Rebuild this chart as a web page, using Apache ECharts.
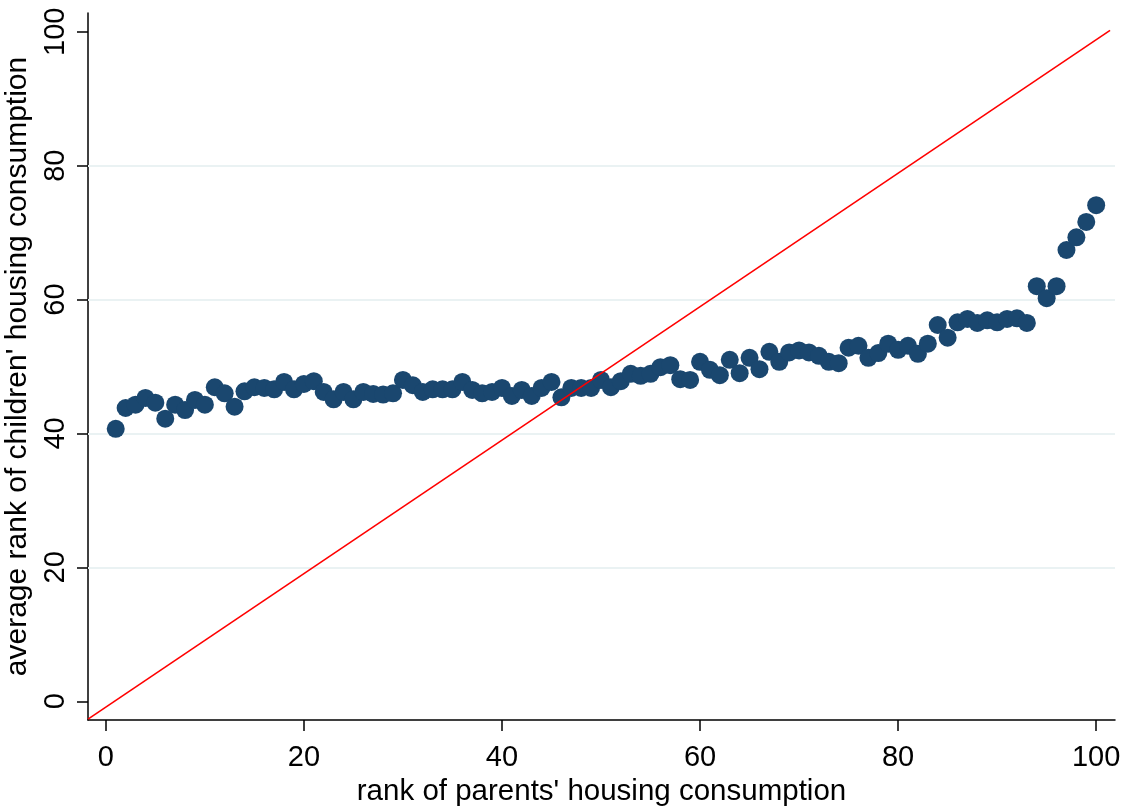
<!DOCTYPE html>
<html>
<head>
<meta charset="utf-8">
<script src="https://cdn.jsdelivr.net/npm/echarts@6/dist/echarts.min.js"></script>
<style>
html,body{margin:0;padding:0;background:#fff;}
#chart{width:1130px;height:806px;}
</style>
</head>
<body>
<div id="chart"></div>
<script>
// parent rank (x)
var parentRank = [];
for (var i = 1; i <= 100; i++) parentRank.push(i);
// average child rank (y)
var childRank = [
40.7,43.8,44.3,45.3,44.6,42.2,44.3,43.5,45.0,44.3,
46.9,46.0,44.0,46.3,46.9,46.8,46.6,47.7,46.6,47.4,
47.8,46.2,45.1,46.2,45.1,46.2,45.9,45.8,46.0,48.0,
47.2,46.2,46.6,46.6,46.6,47.7,46.5,46.0,46.2,46.8,
45.6,46.5,45.6,46.8,47.7,45.4,46.8,46.8,46.8,48.0,
46.9,47.8,48.9,48.6,48.9,49.9,50.2,48.1,48.0,50.7,
49.5,48.7,51.0,49.0,51.3,49.6,52.2,50.7,52.1,52.4,
52.1,51.6,50.7,50.5,52.8,53.1,51.3,52.0,53.4,52.5,
53.1,51.9,53.4,56.2,54.3,56.6,57.1,56.5,56.9,56.6,
57.1,57.2,56.5,62.0,60.2,62.0,67.4,69.3,71.6,74.1
];
// 45-degree reference line endpoints
var refLineX = [-1.8, 101.4];
var refLineY = [-2.66, 100.2];
// tick labels
var xTicks = [0, 20, 40, 60, 80, 100];
var yTicks = [0, 20, 40, 60, 80, 100];
var gridValues = [20, 40, 60, 80];

var xTitle = "rank of parents' housing consumption";
var yTitle = "average rank of children' housing consumption";

var scatterData = parentRank.map(function (x, i) { return [x, childRank[i]]; });
var lineData = refLineX.map(function (x, i) { return [x, refLineY[i]]; });

var font = "'Liberation Sans', Arial, sans-serif";
var chart = echarts.init(document.getElementById('chart'), null, {renderer: 'canvas'});
chart.setOption({
  animation: false,
  backgroundColor: '#ffffff',
  grid: {left: 88, right: 15, top: 13, bottom: 86, containLabel: false, outerBoundsMode: 'none'},
  xAxis: {
    type: 'value', min: -1.8, max: 101.9,
    name: xTitle, nameLocation: 'middle', nameGap: 51,
    nameTextStyle: {fontFamily: font, fontSize: 29.5, color: '#000'},
    axisLine: {show: true, onZero: false, lineStyle: {color: '#000', width: 1.5}},
    axisTick: {show: true, length: 11, customValues: xTicks, lineStyle: {color: '#000', width: 1.5}},
    axisLabel: {customValues: xTicks, fontFamily: font, fontSize: 29, color: '#000', margin: 23},
    splitLine: {show: false}
  },
  yAxis: {
    type: 'value', min: -2.8, max: 102.8,
    name: yTitle, nameLocation: 'middle', nameGap: 42, nameRotate: 90,
    nameTextStyle: {fontFamily: font, fontSize: 30, color: '#000'},
    axisLine: {show: true, onZero: false, lineStyle: {color: '#000', width: 1.5}},
    axisTick: {show: true, length: 11, customValues: yTicks, lineStyle: {color: '#000', width: 1.5}},
    axisLabel: {customValues: yTicks, rotate: 90, fontFamily: font, fontSize: 29, color: '#000', margin: 18},
    splitLine: {show: false}
  },
  series: [
    {
      type: 'scatter',
      data: scatterData,
      symbol: 'circle',
      symbolSize: 18,
      itemStyle: {color: '#1a476f', opacity: 1},
      z: 3,
      markLine: {
        silent: true, symbol: 'none', label: {show: false},
        lineStyle: {color: '#eaf2f3', width: 2, type: 'solid'},
        data: gridValues.map(function (v) { return {yAxis: v}; }),
        z: 1
      }
    },
    {
      type: 'line',
      data: lineData,
      symbol: 'none',
      lineStyle: {color: '#ff0000', width: 1.6},
      z: 5
    }
  ]
});
</script>
</body>
</html>
